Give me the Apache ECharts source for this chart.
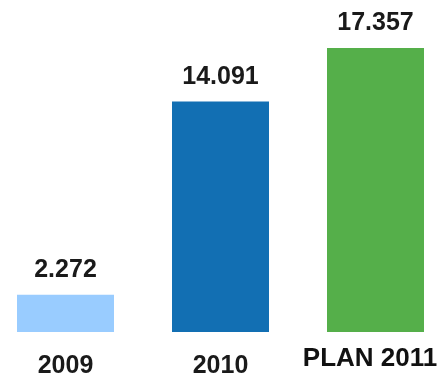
<!DOCTYPE html>
<html><head><meta charset="utf-8">
<script src="https://cdn.jsdelivr.net/npm/echarts@6/dist/echarts.min.js"></script>
<style>html,body{margin:0;padding:0;background:#fff;overflow:hidden}#c{width:465px;height:386px;margin-left:-12px}</style>
</head><body><div id="c"></div>
<script>
var categories = ['2009', '2010', 'PLAN 2011'];
var values = [2.272, 14.091, 17.357];
var valueLabels = ['2.272', '14.091', '17.357'];
var colors = ['#99CCFF', '#126FB3', '#55AF4A'];

var chart = echarts.init(document.getElementById('c'));
chart.setOption({
  animation: false,
  grid: {left: 0, right: 0, top: 48, bottom: 54},
  xAxis: {
    type: 'category', data: categories,
    axisLine: {show: false}, axisTick: {show: false},
    axisLabel: {
      margin: 14, fontFamily: 'Liberation Sans, Arial', fontWeight: 'bold', color: '#1a1a1a',
      formatter: function (v) { return v.indexOf('PLAN') === 0 ? '{p|' + v + '}' : '{n|' + v + '}'; },
      rich: {
        n: {fontSize: 25, fontWeight: 'bold', fontFamily: 'Liberation Sans, Arial', color: '#1a1a1a', padding: [8, 0, 0, 0]},
        p: {fontSize: 26, fontWeight: 'bold', fontFamily: 'Liberation Sans, Arial', color: '#111', padding: [0, 11, 0, 0]}
      }
    }
  },
  yAxis: {type: 'value', min: 0, max: 17.357, show: false, splitLine: {show: false}},
  series: [{
    type: 'bar', barWidth: 97,
    data: values.map(function (v, i) { return {value: v, itemStyle: {color: colors[i]}}; }),
    label: {
      show: true, position: 'top', distance: 12,
      fontFamily: 'Liberation Sans, Arial', fontWeight: 'bold', fontSize: 25, color: '#1a1a1a',
      formatter: function (p) { return valueLabels[p.dataIndex]; }
    }
  }]
});
</script></body></html>
